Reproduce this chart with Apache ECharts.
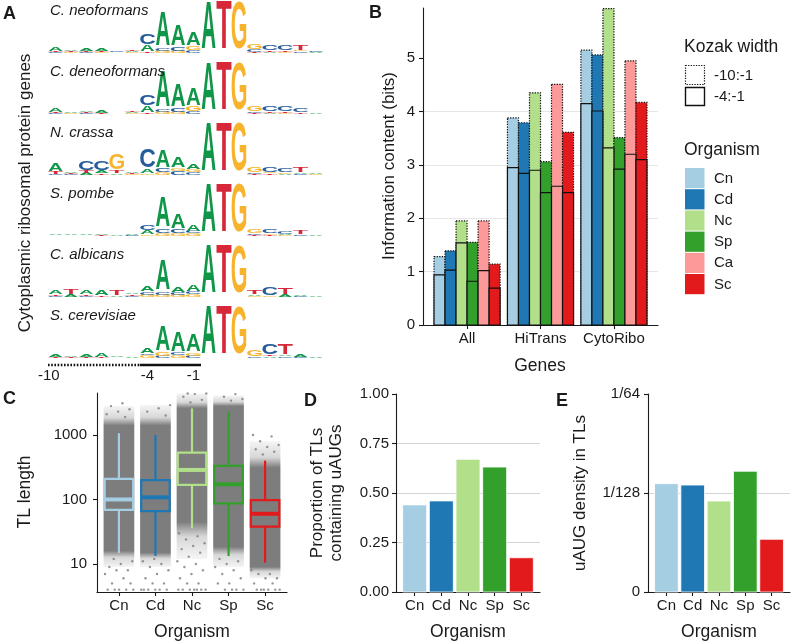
<!DOCTYPE html>
<html><head><meta charset="utf-8">
<script src="https://cdn.jsdelivr.net/npm/echarts@6/dist/echarts.min.js"></script>
<style>html,body{margin:0;padding:0;background:#fff}#c{width:791px;height:644px}</style>
</head><body><div id="c"></div>
<script>
const FONT = '"Liberation Sans", Arial, Helvetica, sans-serif';
const TXT = '#1a1a1a';

// ---------- Panel A : sequence logos (bits) ----------
const logoSpecies = ['C. neoformans','C. deneoformans','N. crassa','S. pombe','C. albicans','S. cerevisiae'];
const logoPositions = [-10,-9,-8,-7,-6,-5,-4,-3,-2,-1,1,2,3,4,5,6,7,8];
const logoTickPositions = [-10,-4,-1];
const kozakWide = [-10,-1];
const kozakCore = [-4,-1];
const logoCn = [
 [['C',.04],['T',.04],['A',.16]],[['G',.03],['T',.04],['A',.06]],[['C',.03],['T',.05],['A',.08]],[['G',.03],['T',.04],['A',.08]],
 [['A',.02],['C',.03]],[['G',.03],['A',.04],['T',.06]],[['T',.05],['A',.25],['C',.42]],[['G',.08],['C',.12],['A',1.36]],
 [['G',.08],['C',.16],['A',.85]],[['C',.1],['G',.16],['A',.55]],[['A',1.92]],[['T',1.98]],[['G',1.92]],
 [['T',.04],['C',.08],['G',.22]],[['A',.04],['T',.06],['C',.22]],[['G',.05],['T',.06],['C',.2]],[['C',.06],['G',.04],['T',.2]],[['A',.03],['C',.03]]];
const logoCd = [
 [['C',.03],['T',.04],['A',.15]],[['G',.03],['A',.05]],[['C',.03],['T',.05],['A',.07]],[['T',.04],['A',.08]],
 [['A',.02]],[['G',.03],['A',.04],['T',.06]],[['T',.05],['A',.28],['C',.42]],[['G',.08],['C',.1],['A',1.45]],
 [['G',.08],['C',.15],['A',.9]],[['C',.1],['G',.2],['A',.68]],[['A',1.92]],[['T',1.98]],[['G',1.92]],
 [['T',.04],['C',.06],['G',.2]],[['A',.04],['T',.05],['C',.2]],[['G',.05],['T',.05],['C',.2]],[['T',.06],['C',.16]],[['A',.03]]];
const logoNc = [
 [['C',.05],['T',.08],['A',.3]],[['C',.03],['T',.06],['A',.06]],[['A',.08],['T',.1],['C',.38]],[['T',.05],['A',.12],['C',.38]],
 [['A',.05],['T',.12],['G',.62]],[['G',.03],['T',.05],['A',.05]],[['G',.05],['A',.18],['C',.75]],[['G',.12],['C',.15],['A',.68]],
 [['C',.15],['G',.12],['A',.42]],[['C',.1],['G',.12],['A',.22]],[['A',1.98]],[['T',1.98]],[['G',1.95]],
 [['T',.05],['C',.06],['G',.22]],[['T',.07],['G',.05],['C',.2]],[['A',.05],['G',.04],['C',.18]],[['C',.05],['A',.05],['T',.22]],[['G',.03],['A',.03]]];
const logoSp = [
 [['T',.02],['A',.05]],[['C',.02],['A',.03]],[['T',.02],['A',.05]],[['T',.03],['A',.05]],
 [['A',.03]],[['C',.03],['A',.03]],[['G',.05],['A',.16],['C',.22]],[['G',.12],['C',.15],['A',1.2]],
 [['G',.1],['C',.15],['A',.6]],[['G',.1],['C',.08],['A',.28]],[['A',1.98]],[['T',1.98]],[['G',1.95]],
 [['T',.04],['C',.05],['G',.16]],[['T',.05],['G',.05],['C',.16]],[['G',.05],['A',.04],['C',.1]],[['C',.05],['T',.14]],[['A',.03]]];
const logoCa = [
 [['C',.04],['T',.06],['A',.16]],[['A',.08],['T',.22]],[['C',.04],['T',.05],['A',.16]],[['T',.06],['A',.2]],
 [['A',.06],['T',.2]],[['C',.04],['T',.06],['A',.06]],[['G',.08],['C',.12],['A',.22]],[['G',.08],['C',.1],['A',1.22]],
 [['G',.08],['C',.1],['A',.2]],[['G',.1],['C',.1],['A',.24]],[['A',1.95]],[['T',1.96]],[['G',1.9]],
 [['G',.04],['A',.05],['T',.15]],[['G',.06],['C',.32]],[['A',.08],['T',.25]],[['C',.03],['A',.05]],[['A',.03]]];
const logoSc = [
 [['T',.03],['A',.12]],[['T',.03],['A',.06]],[['T',.03],['A',.1]],[['T',.04],['A',.14]],
 [['C',.02],['A',.04]],[['A',.03]],[['G',.1],['C',.06],['A',.22]],[['C',.08],['G',.15],['A',1.0]],
 [['G',.1],['C',.12],['A',.8]],[['C',.08],['G',.12],['A',.7]],[['A',1.96]],[['T',1.96]],[['G',1.92]],
 [['C',.04],['G',.28]],[['A',.06],['T',.05],['C',.42]],[['C',.06],['A',.06],['T',.42]],[['C',.03],['A',.1]],[['A',.04]]];

// ---------- Panel B ----------
const genes = ['All','HiTrans','CytoRibo'];
const organismsB = ['Cn','Cd','Nc','Sp','Ca','Sc'];
const icWideAll      = [1.28,1.39,1.95,1.55,1.95,1.14];
const icWideHiTrans  = [3.88,3.79,4.35,3.06,4.51,3.61];
const icWideCytoRibo = [5.15,5.06,5.93,3.51,4.95,4.17];
const icCoreAll      = [0.94,1.03,1.54,0.82,1.02,0.69];
const icCoreHiTrans  = [2.95,2.84,2.90,2.48,2.60,2.48];
const icCoreCytoRibo = [4.15,4.01,3.32,2.92,3.20,3.10];
const kozakLabels = ['-10:-1','-4:-1'];

// ---------- Panel C ----------
const organisms5 = ['Cn','Cd','Nc','Sp','Sc'];
// [lower whisker, Q1, median, Q3, upper whisker]
const tlBoxCn = [14.7,69,100,208,1062];
const tlBoxCd = [13.3,66,108,200,1000];
const tlBoxNc = [35.7,168,287,532,2580];
const tlBoxSp = [13.3,87,172,331,2290];
const tlBoxSc = [10.5,38,60,98,400];
// point cloud extent: [sparse low, dense low, dense high, sparse high]
const cloudCn = [9,16,1400,2800];
const cloudCd = [9,15,1400,2900];
const cloudNc = [12,45,2600,4400];
const cloudSp = [9,18.5,2800,4100];
const cloudSc = [6,9,310,800];
const sparseCn = [3100,2800,2500,2300,2100,1900,12,11,10,9,8,8,7,6,5,5,4,4,4,4,4];
const sparseCd = [2900,2600,2300,2000,12,11,10,9,8,7,6,5,5,4,4,4,4,4,4];
const sparseNc = [4400,4400,4300,3900,3500,3200,30,27,24,21,19,17,15,13,11,10,9,8,7,6,5,5,4,4,4,4,4,4,4];
const sparseSp = [4300,3900,3600,3400,12,11,10,9,8,7,6,5,5,4,4,4,4];
const sparseSc = [1000,950,800,700,650,600,550,500,8,7,7,6,6,5,5,4,4,4,4,4,4];

// ---------- Panel D / E ----------
const propUAUG = [0.44,0.46,0.67,0.631,0.173];
const uaugDensity = [0.00855,0.00844,0.00718,0.00953,0.00416];

const orgColors = {Cn:'#A6CEE3',Cd:'#1F78B4',Nc:'#B2DF8A',Sp:'#33A02C',Ca:'#FB9A99',Sc:'#E31A1C'};
const LOGO_COLORS = {A:'#109648',C:'#255C99',G:'#F7B32B',T:'#D62839'};
const LETTERS = ['A','C','G','T'];
const INK = {A:0.72,C:0.64,G:0.68,T:0.58};
const CAP = 0.716;

// ---- build logo data ----
const ROW_STEP = 2.44;
const logoRows = [logoCn,logoCd,logoNc,logoSp,logoCa,logoSc];
const posToCol = p => logoPositions.indexOf(p);
const logoData = [];
logoRows.forEach((row,r)=>{
  const base = (logoRows.length-1-r)*ROW_STEP;
  row.forEach((stack,c)=>{
    let y = base;
    stack.forEach(([L,h])=>{ logoData.push([c,y,y+h,LETTERS.indexOf(L)]); y += h; });
  });
});
const LOGO_YMIN = -0.28, LOGO_YMAX = 14.2;

function renderLetter(params, api){
  const c = api.value(0), y0 = api.value(1), y1 = api.value(2), L = LETTERS[api.value(3)];
  const p0 = api.coord([c-0.5,y0]), p1 = api.coord([c+0.5,y1]);
  const w = p1[0]-p0[0], h = p0[1]-p1[1];
  if (h < 0.4) return null;
  const F = 100;
  return {type:'text', x:(p0[0]+p1[0])/2, y:(p0[1]+p1[1])/2,
    scaleX: w*0.96/(INK[L]*F), scaleY: h/(CAP*F), silent:true,
    style:{text:L, x:0, y:(CAP/2-0.3465)*F, fontSize:F, fontFamily:FONT, fontWeight:'bold',
      fill:LOGO_COLORS[L], align:'center', textAlign:'center', verticalAlign:'middle', textVerticalAlign:'middle'}};
}

// ---- panel B data ----
const wideByGene = [icWideAll, icWideHiTrans, icWideCytoRibo];
const coreByGene = [icCoreAll, icCoreHiTrans, icCoreCytoRibo];
const DODGE = 0.9/organismsB.length;
const wideData = [], coreData = [];
genes.forEach((g,gi)=>{
  organismsB.forEach((o,k)=>{
    const x = gi+1 + (k-(organismsB.length-1)/2)*DODGE;
    wideData.push([x, wideByGene[gi][k], k]);
    coreData.push([x, coreByGene[gi][k], k]);
  });
});
function barRenderer(dotted){
  return function(params, api){
    const x = api.value(0), v = api.value(1), k = api.value(2);
    const a = api.coord([x-DODGE/2, v]), b = api.coord([x+DODGE/2, 0]);
    return {type:'rect', shape:{x:a[0], y:a[1], width:b[0]-a[0], height:b[1]-a[1]},
      style:{fill:orgColors[organismsB[k]], stroke:'#111', lineWidth:1.2, lineDash: dotted?[1.3,1.3]:null}};
  };
}

// ---- panel C data ----
const L10 = v => Math.log10(v);
const boxes = [tlBoxCn,tlBoxCd,tlBoxNc,tlBoxSp,tlBoxSc];
const clouds = [cloudCn,cloudCd,cloudNc,cloudSp,cloudSc];
const sparse = [sparseCn,sparseCd,sparseNc,sparseSp,sparseSc];
const boxData = boxes.map((b,i)=>[i+1, ...b.map(L10), i]);
const cloudData = clouds.map((c,i)=>[i+1, ...c.map(L10)]);
const sparseData = [];
sparse.forEach((arr,i)=>arr.forEach((v,k)=>{
  const j = ((k+1)*0.6180339887 + i*0.37) % 1;
  sparseData.push([i+1 + (j-0.5)*0.82, L10(v)]);
}));
const JIT = 0.42;
function renderCloud(params, api){
  const x = api.value(0), s0 = api.value(1), d0 = api.value(2), d1 = api.value(3), s1 = api.value(4);
  const a = api.coord([x-JIT, s1]), b = api.coord([x+JIT, s0]);
  const span = s1 - s0;
  const g = 'rgba(125,125,125,';
  const tTop = (s1-d1)/span, tBot = (s1-d0)/span;
  return {type:'rect', shape:{x:a[0], y:a[1], width:b[0]-a[0], height:b[1]-a[1]},
    style:{fill:{type:'linear', x:0, y:0, x2:0, y2:1, colorStops:[
      {offset:0, color:g+'0.08)'},
      {offset:tTop*0.6, color:g+'0.3)'},
      {offset:tTop, color:g+'1)'},
      {offset:tBot, color:g+'1)'},
      {offset:tBot+(1-tBot)*0.4, color:g+'0.3)'},
      {offset:1, color:g+'0.08)'}]}}};
}
const BOXW = 0.39;
function renderBox(params, api){
  const x = api.value(0);
  const lo = api.value(1), q1 = api.value(2), md = api.value(3), q3 = api.value(4), hi = api.value(5);
  const col = orgColors[organisms5[api.value(6)]];
  const pl = api.coord([x-BOXW, q3]), pr = api.coord([x+BOXW, q1]);
  const pm = api.coord([x, md]), plo = api.coord([x, lo]), phi = api.coord([x, hi]);
  const st = {stroke:col, lineWidth:2.2, fill:null};
  return {type:'group', children:[
    {type:'line', shape:{x1:phi[0], y1:phi[1], x2:phi[0], y2:pl[1]}, style:st},
    {type:'line', shape:{x1:plo[0], y1:plo[1], x2:plo[0], y2:pr[1]}, style:st},
    {type:'rect', shape:{x:pl[0], y:pl[1], width:pr[0]-pl[0], height:pr[1]-pl[1]}, style:{stroke:col, lineWidth:2.2, fill:'rgba(0,0,0,0)'}},
    {type:'line', shape:{x1:pl[0], y1:pm[1], x2:pr[0], y2:pm[1]}, style:{stroke:col, lineWidth:4}}
  ]};
}

// ---- panel D/E ----
function simpleBars(vals){ return vals.map((v,i)=>[i+1, v, i]); }
function renderSimpleBar(params, api){
  const x = api.value(0), v = api.value(1), k = api.value(2);
  const a = api.coord([x-0.45, v]), b = api.coord([x+0.45, 0]);
  return {type:'rect', shape:{x:a[0], y:a[1], width:b[0]-a[0], height:b[1]-a[1]},
    style:{fill:orgColors[organisms5[k]], stroke:'#ffffff', lineWidth:0.8}};
}

// ---- axes helpers ----
const axLine = {show:true, onZero:false, lineStyle:{color:TXT, width:1.1}};
const lbl = (extra)=>Object.assign({fontSize:15, fontFamily:FONT, color:TXT}, extra);
function catX(gi, min, max, names){
  const cv = names.map((_,i)=>i+1);
  return {type:'value', gridIndex:gi, min, max, axisLine:axLine,
    axisTick:{show:true, customValues:cv, length:4, lineStyle:{color:TXT, width:1.1}},
    axisLabel:lbl({customValues:cv, formatter:v=>names[Math.round(v)-1]||'', margin:6}),
    splitLine:{show:false}};
}
function valY(gi, min, max, interval, cv, fmt, grid, margin){
  return {type:'value', gridIndex:gi, min, max, interval, axisLine:axLine,
    axisTick:{show:true, customValues:cv, length:4, lineStyle:{color:TXT, width:1.1}},
    axisLabel:lbl({customValues:cv, formatter:fmt, margin:margin}),
    splitLine:{show:!!grid, showMinLine:false, showMaxLine:false, lineStyle:{color:grid||'#ddd', width:1}}};
}

// ---- graphic text helper ----
function txt(x, y, s, o){
  o = o || {};
  return {type:'text', x, y, rotation:o.rot||0, silent:true, z:10,
    style:{text:s, fontSize:o.size||15, fontFamily:FONT, fontWeight:o.weight||'normal', fontStyle:o.style||'normal',
      fill:o.color||TXT, align:o.align||'center', textAlign:o.align||'center',
      verticalAlign:'middle', textVerticalAlign:'middle', lineHeight:o.lh||undefined}};
}
const R90 = Math.PI/2;
const graphics = [];
graphics.push(txt(3,14,'A',{size:18,weight:'bold',align:'left'}));
graphics.push(txt(369,13,'B',{size:18,weight:'bold',align:'left'}));
graphics.push(txt(3,399,'C',{size:18,weight:'bold',align:'left'}));
graphics.push(txt(304,401,'D',{size:18,weight:'bold',align:'left'}));
graphics.push(txt(556,401,'E',{size:18,weight:'bold',align:'left'}));
logoSpecies.forEach((s,i)=>graphics.push(txt(50, 11+61*i, s, {size:15, style:'italic', align:'left'})));
graphics.push(txt(25,193,'Cytoplasmic ribosomal protein genes',{size:17,rot:R90}));
graphics.push(txt(389,166,'Information content (bits)',{size:17,rot:R90}));
graphics.push(txt(540,366,'Genes',{size:17.5}));
graphics.push(txt(25,492,'TL length',{size:17.5,rot:R90}));
graphics.push(txt(192,632,'Organism',{size:17.5}));
graphics.push(txt(327,493,'Proportion of TLs\ncontaining uAUGs',{size:17,rot:R90,lh:19}));
graphics.push(txt(468,632,'Organism',{size:17.5}));
graphics.push(txt(580,493,'uAUG density in TLs',{size:17,rot:R90}));
graphics.push(txt(719,632,'Organism',{size:17.5}));
// legend
graphics.push(txt(684,47,'Kozak width',{size:17.5,align:'left'}));
graphics.push({type:'rect', shape:{x:685.5,y:65.5,width:19,height:19}, style:{fill:'#fff', stroke:'#111', lineWidth:1.2, lineDash:[1.3,1.3]}});
graphics.push({type:'rect', shape:{x:685.5,y:87.5,width:19,height:18}, style:{fill:'#fff', stroke:'#111', lineWidth:1.4}});
graphics.push(txt(714,76,kozakLabels[0],{size:15,align:'left'}));
graphics.push(txt(714,97,kozakLabels[1],{size:15,align:'left'}));
graphics.push(txt(684,150,'Organism',{size:17.5,align:'left'}));
organismsB.forEach((o,i)=>{
  graphics.push({type:'rect', shape:{x:685,y:168+21.2*i,width:19.5,height:20.2}, style:{fill:orgColors[o]}});
  graphics.push(txt(714,178.5+21.2*i,o,{size:15,align:'left'}));
});

const colWide0 = posToCol(kozakWide[0])-0.5, colCore0 = posToCol(kozakCore[0])-0.5, colEnd = posToCol(kozakCore[1])+0.5;
const logoLabelCols = [posToCol(-10)-0.45, posToCol(-4), posToCol(-1)];

const option = {
  animation:false,
  backgroundColor:'#fff',
  grid:[
    {left:48, top:3, width:275.4, height:362, outerBoundsMode:'none'},
    {left:423, top:8, width:235, height:317, outerBoundsMode:'none'},
    {left:97, top:393, width:190, height:199, outerBoundsMode:'none'},
    {left:396, top:394, width:144, height:198, outerBoundsMode:'none'},
    {left:648, top:394, width:142, height:198, outerBoundsMode:'none'}
  ],
  xAxis:[
    {type:'value', gridIndex:0, min:-0.5, max:logoPositions.length-0.5, axisLine:{show:false}, axisTick:{show:false}, splitLine:{show:false},
      axisLabel:lbl({customValues:logoLabelCols, margin:3,
        formatter:v=>{ const i = logoLabelCols.findIndex(t=>Math.abs(t-v)<0.01); return i>=0?String(logoTickPositions[i]):''; }})},
    catX(1, 0.4, 3.6, genes),
    catX(2, 0.4, 5.6, organisms5),
    catX(3, 0.3, 5.7, organisms5),
    catX(4, 0.3, 5.7, organisms5)
  ],
  yAxis:[
    {type:'value', gridIndex:0, min:LOGO_YMIN, max:LOGO_YMAX, show:false},
    valY(1, 0, 5.94, 1, [0,1,2,3,4,5], v=>String(Math.round(v)), '#e6e6e6', 8),
    valY(2, L10(3.68), L10(4470), 1, [1,2,3], v=>String(Math.round(Math.pow(10,v))), null, 10),
    valY(3, 0, 1, 0.25, [0,0.25,0.5,0.75,1], v=>v.toFixed(2), '#d4d4d4', 7),
    valY(4, 0, 1/64, 1/128, [0,1/128,1/64], v=>v===0?'0':'1/'+Math.round(1/v), '#d4d4d4', 8)
  ],
  series:[
    {type:'custom', xAxisIndex:0, yAxisIndex:0, data:logoData, renderItem:renderLetter, clip:false, silent:true},
    {type:'line', xAxisIndex:0, yAxisIndex:0, data:[[colWide0,LOGO_YMIN],[colCore0,LOGO_YMIN]], symbol:'none', clip:false, silent:true,
      lineStyle:{color:'#111', width:2.6, type:[1.6,1.6]}},
    {type:'line', xAxisIndex:0, yAxisIndex:0, data:[[colCore0,LOGO_YMIN],[colEnd,LOGO_YMIN]], symbol:'none', clip:false, silent:true,
      lineStyle:{color:'#111', width:2.6}},
    {type:'custom', xAxisIndex:1, yAxisIndex:1, data:wideData, renderItem:barRenderer(true), silent:true},
    {type:'custom', xAxisIndex:1, yAxisIndex:1, data:coreData, renderItem:barRenderer(false), silent:true},
    {type:'custom', xAxisIndex:2, yAxisIndex:2, data:cloudData, renderItem:renderCloud, silent:true},
    {type:'scatter', xAxisIndex:2, yAxisIndex:2, data:sparseData, symbolSize:2.4, itemStyle:{color:'#7d7d7d'}, silent:true},
    {type:'custom', xAxisIndex:2, yAxisIndex:2, data:boxData, renderItem:renderBox, silent:true},
    {type:'custom', xAxisIndex:3, yAxisIndex:3, data:simpleBars(propUAUG), renderItem:renderSimpleBar, silent:true},
    {type:'custom', xAxisIndex:4, yAxisIndex:4, data:simpleBars(uaugDensity), renderItem:renderSimpleBar, silent:true}
  ],
  graphic:graphics
};
const chart = echarts.init(document.getElementById('c'), null, {renderer:'canvas'});
chart.setOption(option);
</script></body></html>
